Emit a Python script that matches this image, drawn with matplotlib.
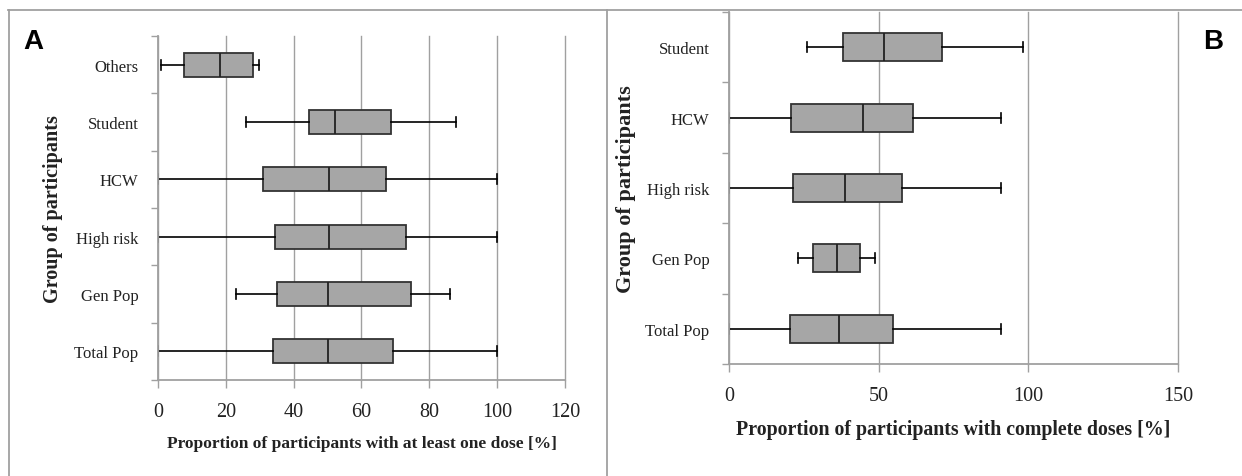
import matplotlib
matplotlib.use("Agg")
import matplotlib.pyplot as plt
from matplotlib.lines import Line2D

# ---------------- data ----------------
groups_a = ["Total Pop", "Gen Pop", "High risk", "HCW", "Student", "Others"]
whislo_a = [0.0, 23.0, 0.0, 0.0, 26.0, 0.9]
q1_a     = [34.0, 35.0, 34.5, 31.0, 44.5, 7.8]
med_a    = [50.0, 50.0, 50.5, 50.5, 52.3, 18.4]
q3_a     = [69.3, 74.7, 73.2, 67.1, 68.7, 28.1]
whishi_a = [100.0, 86.0, 100.0, 100.0, 88.0, 29.9]

groups_b = ["Total Pop", "Gen Pop", "High risk", "HCW", "Student"]
whislo_b = [0.0, 23.0, 0.0, 0.0, 26.0]
q1_b     = [20.4, 28.2, 21.5, 20.8, 38.2]
med_b    = [36.8, 36.0, 38.9, 44.9, 51.7]
q3_b     = [54.9, 43.7, 57.9, 61.4, 71.0]
whishi_b = [90.7, 48.9, 90.7, 90.7, 98.1]

xticks_a = [0, 20, 40, 60, 80, 100, 120]
xticks_b = [0, 50, 100, 150]

SERIF = ["Liberation Serif", "DejaVu Serif"]
GRID = "#a0a0a0"

fig = plt.figure(figsize=(12.42, 4.77), dpi=100)


def stats_of(groups, lo, q1, med, q3, hi):
    return [dict(label=g, whislo=a, q1=b, med=c, q3=d, whishi=e, fliers=[])
            for g, a, b, c, d, e in zip(groups, lo, q1, med, q3, hi)]


def draw(ax, groups, stats, xticks, xlabel, box_w, cap_w, xl_size, yl_size, yl_pad):
    n = len(groups)
    pos = list(range(1, n + 1))
    ax.bxp(stats, positions=pos, orientation="horizontal", widths=box_w,
           capwidths=cap_w, patch_artist=True, showfliers=False,
           boxprops=dict(facecolor="#a6a6a6", edgecolor="#333333", linewidth=1.3),
           medianprops=dict(color="#222222", linewidth=1.3),
           whiskerprops=dict(color="black", linewidth=1.2),
           capprops=dict(color="black", linewidth=1.2), zorder=3)
    ax.set_xlim(xticks[0], xticks[-1])
    ax.set_ylim(0.5, n + 0.5)
    ax.set_xticks(xticks)
    ax.set_xticklabels([str(t) for t in xticks], fontsize=14.5, family=SERIF,
                       color="#222222")
    ax.set_yticks(pos)
    ax.set_yticklabels(groups, fontsize=12, family=SERIF, color="#222222")
    ax.set_yticks([i + 0.5 for i in range(0, n + 1)], minor=True)
    ax.tick_params(axis="y", which="major", length=0, pad=14)
    ax.tick_params(axis="y", which="minor", length=5, color=GRID, width=1)
    ax.tick_params(axis="x", which="major", length=6, color=GRID, width=1, pad=10)
    ax.grid(axis="x", color=GRID, linewidth=1, zorder=0)
    for gl in ax.get_xgridlines():
        gl.set_clip_on(False)
    ax.set_axisbelow(True)
    for s in ("top", "right"):
        ax.spines[s].set_visible(False)
    for s in ("left", "bottom"):
        ax.spines[s].set_color(GRID)
        ax.spines[s].set_linewidth(1.3)
        ax.spines[s].set_zorder(6)
    ax.set_xlabel(xlabel, fontsize=xl_size, fontweight="bold", family=SERIF,
                  labelpad=10, color="#222222")
    ax.set_ylabel("Group of participants", fontsize=yl_size, fontweight="bold",
                  family=SERIF, labelpad=yl_pad, color="#222222")


ax_a = fig.add_axes([0.1272, 0.2013, 0.3277, 0.7211])
draw(ax_a, groups_a, stats_of(groups_a, whislo_a, q1_a, med_a, q3_a, whishi_a),
     xticks_a, "Proportion of participants with at least one dose [%]",
     0.42, 0.17, 12.5, 14.5, 14)
ax_a.yaxis.set_label_coords(-0.233, 0.5)

ax_b = fig.add_axes([0.5870, 0.2348, 0.3615, 0.7379])
draw(ax_b, groups_b, stats_of(groups_b, whislo_b, q1_b, med_b, q3_b, whishi_b),
     xticks_b, "Proportion of participants with complete doses [%]",
     0.40, 0.14, 14.3, 16, 10)
ax_b.yaxis.set_label_coords(-0.208, 0.5)

# panel letters
fig.text(33 / 1242, 1 - 42 / 477, "A", fontsize=20, fontweight="bold",
         family=["Liberation Sans", "DejaVu Sans"], ha="center", va="center")
fig.text(1213 / 1242, 1 - 42 / 477, "B", fontsize=20, fontweight="bold",
         family=["Liberation Sans", "DejaVu Sans"], ha="center", va="center")

# frame lines
H = 477.0
W = 1242.0
fig.add_artist(Line2D([8 / W, 1.0], [1 - 11 / H, 1 - 11 / H], color=GRID, lw=1.3))
fig.add_artist(Line2D([9 / W, 9 / W], [0, 1 - 11 / H], color=GRID, lw=1.3))
fig.add_artist(Line2D([607 / W, 607 / W], [0, 1 - 11 / H], color=GRID, lw=1.3))

fig.savefig("out.png", dpi=100)
